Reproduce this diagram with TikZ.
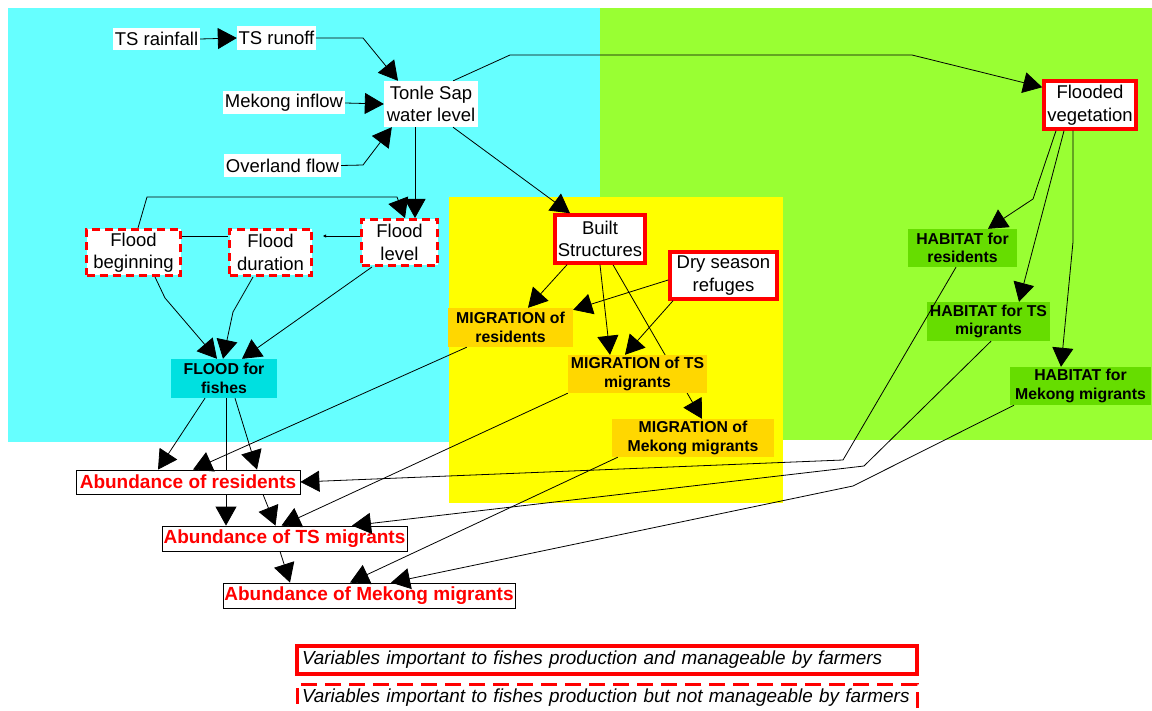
\documentclass[tikz,border=0pt]{standalone}
\usepackage{fontspec}
\setmainfont{Liberation Sans}
\usetikzlibrary{arrows.meta}
\definecolor{skybg}{HTML}{66FFFF}
\definecolor{grassbg}{HTML}{99FF33}
\definecolor{sunbg}{HTML}{FFFF00}
\definecolor{floodfill}{HTML}{00E0E0}
\definecolor{migfill}{HTML}{FFD700}
\definecolor{habfill}{HTML}{66DD00}
\pgfdeclarelayer{back}
\pgfdeclarelayer{under}
\pgfsetlayers{back,under,main}
\begin{document}
\begin{tikzpicture}[x=1pt,y=-1pt,
  lbl/.style={fill=white, inner sep=0pt, align=center, font=\fontsize{18.5}{22.5}\selectfont},
  managed/.style={lbl, draw=red, line width=3.5pt},
  unmanaged/.style={lbl, draw=red, line width=3pt, dash pattern=on 8pt off 5pt},
  factor/.style={inner sep=0pt, align=center, font=\bfseries\fontsize{15.8}{18.3}\selectfont},
  abund/.style={draw=black, line width=0.8pt, fill=white, text=red, inner sep=0pt,
    font=\bfseries\fontsize{19}{22}\selectfont},
  legendbox/.style={draw=red, fill=white, inner xsep=5pt, inner ysep=0pt, text width=610pt,
    align=left, font=\itshape\fontsize{18.9}{22}\selectfont},
  link/.style={draw=black, line width=0.8pt, -{Triangle[length=19pt,width=21pt]}},
  plainlink/.style={draw=black, line width=0.8pt},
  dotlink/.style={draw=black, line width=0.8pt, -{Triangle[length=3pt,width=3pt]}}]

\useasboundingbox (0,0) rectangle (1152,711);

% coloured zones
\begin{pgfonlayer}{back}
  \fill[white] (0,0) rectangle (1152,711);
  \fill[skybg] (8,8) rectangle (600,442);
  \fill[grassbg] (600,8) rectangle (1152,440);
  \fill[sunbg] (449,197) rectangle (783,503);
\end{pgfonlayer}

% hydrology inputs
\node[lbl, minimum width=87pt, minimum height=22pt] (rain) at (156.5,39) {TS rainfall};
\node[lbl, minimum width=79pt, minimum height=24pt] (runoff) at (276.5,38) {TS runoff};
\node[lbl, minimum width=122pt, minimum height=23pt] (mekin) at (284,103) {Mekong inflow};
\node[lbl, minimum width=117pt, minimum height=23pt] (overland) at (282.5,165.5) {Overland flow};
\node[lbl, minimum width=94pt, minimum height=46pt] (tonle) at (431,104) {Tonle Sap\\water level};

% manageable variables
\node[managed, minimum width=92pt, minimum height=48pt] (floodveg) at (1090,105) {Flooded\\vegetation};
\node[managed, minimum width=90pt, minimum height=48pt] (built) at (600,239) {Built\\Structures};
\node[managed, minimum width=107pt, minimum height=47pt] (dry) at (723.5,275.5) {Dry season\\refuges};

% non-manageable variables
\node[unmanaged, minimum width=94pt, minimum height=46pt] (fbegin) at (133.5,252.5) {Flood\\beginning};
\node[unmanaged, minimum width=82pt, minimum height=46pt] (fdur) at (270.5,252.5) {Flood\\duration};
\node[unmanaged, minimum width=76pt, minimum height=46pt] (flevel) at (399.5,242.5) {Flood\\level};

% intermediate factors
\node[factor, fill=floodfill, minimum width=106pt, minimum height=39pt] (floodfish) at (224,378.5) {FLOOD for\\fishes};
\node[factor, fill=migfill, minimum width=125pt, minimum height=39pt] (migres) at (510.5,327.5) {MIGRATION of\\residents};
\node[factor, fill=migfill, minimum width=139pt, minimum height=38pt] (migts) at (637.5,374) {MIGRATION of TS\\migrants};
\node[factor, fill=migfill, minimum width=162pt, minimum height=38pt] (migmek) at (693,438) {MIGRATION of\\Mekong migrants};
\node[factor, fill=habfill, minimum width=109pt, minimum height=38pt] (habres) at (962.5,248) {HABITAT for\\residents};
\node[factor, fill=habfill, minimum width=123pt, minimum height=39pt] (habts) at (988.5,321.5) {HABITAT for TS\\migrants};
\node[factor, fill=habfill, minimum width=141pt, minimum height=38pt] (habmek) at (1080.5,386) {HABITAT for\\Mekong migrants};

% outcomes
\node[abund, minimum width=224pt, minimum height=24pt] (abres) at (188,482) {Abundance of residents};
\node[abund, minimum width=245pt, minimum height=25pt] (abts) at (284.5,538.5) {Abundance of TS migrants};
\node[abund, minimum width=292pt, minimum height=25pt] (abmek) at (369,595.5) {Abundance of Mekong migrants};

% legend
\node[legendbox, line width=4pt, minimum height=28pt] (leg1) at (607,660)
  {\mbox{Variables important to fishes production and manageable by farmers}};
\node[legendbox, line width=3pt, dash pattern=on 16pt off 8pt, minimum height=28pt] (leg2) at (607,698)
  {\mbox{Variables important to fishes production but not manageable by farmers}};

% bend points
\coordinate (r1) at (363,38);
\coordinate (o1) at (363,165);
\coordinate (v1) at (510,55);
\coordinate (v2) at (912,55);
\coordinate (b1) at (147,197);
\coordinate (b2) at (397,197);
\coordinate (fd) at (323,236);
\coordinate (f1) at (165,298);
\coordinate (f2) at (233,312);
\coordinate (h1) at (1033,199);
\coordinate (h2) at (1073,242);
\coordinate (g1) at (843,460);
\coordinate (g2) at (864,466);
\coordinate (g3) at (853,486);

% connectors that pass behind boxes
\begin{pgfonlayer}{under}
  \draw[link] ([xshift=2pt]floodfish.south) -- ([xshift=-58.5pt]abts.north);
  \draw[link] ([xshift=13pt]built.south) -- ([xshift=9pt]migmek.north);
\end{pgfonlayer}

% hydrology
\draw[link] (rain.east) -- (runoff.west);
\draw[link] (runoff.east) -- (r1) -- ([xshift=-33pt]tonle.north);
\draw[link] (mekin.east) -- (tonle.west);
\draw[link] (overland.east) -- (o1) -- ([xshift=8pt]tonle.south west);
\draw[link] ([xshift=-25pt]tonle.north east) -- (v1) -- (v2) -- ([yshift=-8pt]floodveg.north west);
\draw[link] ([xshift=-16pt]tonle.south) -- ([xshift=15.5pt]flevel.north);
\draw[link] ([xshift=22pt]tonle.south) -- ([xshift=-30pt]built.north);

% flood characteristics
\draw[link] ([xshift=4.5pt]fbegin.north) -- (b1) -- (b2) -- ([xshift=5.5pt]flevel.north);
\draw[plainlink] ([yshift=16.5pt]fbegin.east) -- ([yshift=16.5pt]fdur.west);
\draw[dotlink] ([yshift=6.5pt]flevel.west) -- (fd);
\draw[link] ([xshift=21.5pt]fbegin.south) -- (f1) -- ([xshift=-7pt]floodfish.north);
\draw[link] ([xshift=-17.5pt]fdur.south) -- (f2) -- ([xshift=-1pt]floodfish.north);
\draw[link] ([xshift=-27.5pt]flevel.south) -- ([xshift=18pt]floodfish.north);

% flood to abundance
\draw[link] ([xshift=-19pt]floodfish.south) -- ([xshift=-30pt]abres.north);
\draw[link] ([xshift=11pt]floodfish.south) -- ([xshift=69pt]abres.north);
\draw[link] ([xshift=75pt]abres.south) -- ([xshift=-9pt]abts.north);
\draw[link] ([xshift=-4.5pt]abts.south) -- ([xshift=-79pt]abmek.north);

% migration
\draw[link] ([xshift=-33pt]built.south) -- ([xshift=17.5pt]migres.north);
\draw[link] (built.south) -- ([xshift=-27.5pt]migts.north);
\draw[link] ([yshift=-4.5pt]dry.west) -- ([yshift=-2pt]migres.north east);
\draw[link] ([xshift=-50.5pt]dry.south) -- ([xshift=-12.5pt]migts.north);
\draw[link] ([xshift=19pt]migres.south west) -- ([xshift=5pt]abres.north);
\draw[link] (migts.south west) -- ([xshift=-3pt]abts.north);
\draw[link] ([xshift=6pt]migmek.south west) -- ([xshift=-19pt]abmek.north);

% habitat
\draw[link] ([xshift=-34pt]floodveg.south) -- (h1) -- ([xshift=25.5pt]habres.north);
\draw[link] ([xshift=-26pt]floodveg.south) -- ([xshift=30.5pt]habts.north);
\draw[link] ([xshift=-17pt]floodveg.south) -- (h2) -- ([xshift=-19.5pt]habmek.north);
\draw[link] ([xshift=-6.5pt]habres.south) -- (g1) -- (abres.east);
\draw[link] ([xshift=2.5pt]habts.south) -- (g2) -- ([xshift=67.5pt]abts.north);
\draw[link] ([xshift=-66.5pt]habmek.south) -- (g3) -- ([xshift=22pt]abmek.north);
\end{tikzpicture}
\end{document}
